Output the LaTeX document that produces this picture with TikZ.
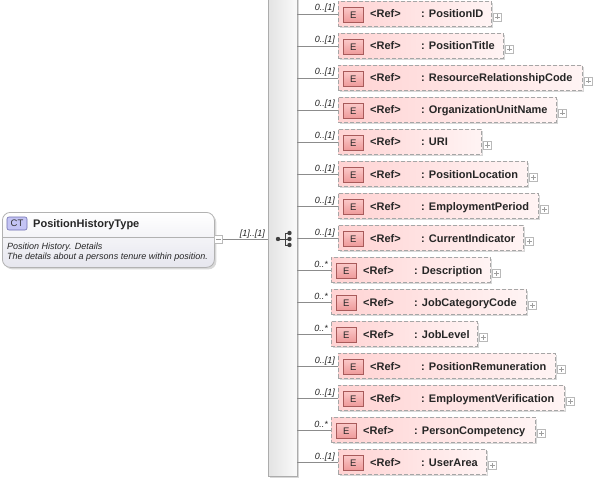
\documentclass[tikz,border=0pt]{standalone}
\usepackage{fontspec}
\setmainfont{Liberation Sans}
\usetikzlibrary{shadows}
\definecolor{lnc}{HTML}{8C8C8C}
\definecolor{boxl}{HTML}{FFD3D3}
\definecolor{boxr}{HTML}{FFF4F4}
\definecolor{dashc}{HTML}{A6A6A6}
\definecolor{eicont}{HTML}{FBC8C8}
\definecolor{eiconb}{HTML}{EE9A9A}
\definecolor{eicond}{HTML}{A85A5A}
\definecolor{cticon}{HTML}{C4C4F4}
\definecolor{cticond}{HTML}{6E6EB0}
\definecolor{ctbot}{HTML}{E6E6EE}
\begin{document}
\begin{tikzpicture}[x=1pt,y=-1pt,
  conn/.style={draw=lnc, line width=0.7pt},
  elbox/.style={draw=dashc, dash pattern=on 4pt off 2pt, line width=0.8pt,
    left color=boxl, right color=boxr, inner sep=0, anchor=north west,
    minimum height=25pt,
    drop shadow={shadow xshift=1.5pt, shadow yshift=-1.5pt, opacity=0.3}},
  eicon/.style={draw=eicond, line width=0.6pt, top color=eicont, bottom color=eiconb,
    minimum width=20pt, minimum height=15pt, inner sep=0, anchor=north west,
    font=\fontsize{9.5}{10}\selectfont, text=black!85},
  reftxt/.style={anchor=base west, inner sep=0, font=\fontsize{11}{12}\selectfont\bfseries, text=black!85},
  multtxt/.style={anchor=base east, inner sep=0, font=\fontsize{9}{10}\selectfont\itshape, text=black!85},
  plusbox/.style={draw=gray!55, fill=white, minimum size=8pt, inner sep=0, line width=0.5pt},
  seqbar/.style={draw=gray!65, line width=0.8pt, left color=gray!22, right color=gray!4,
    minimum width=29pt, minimum height=486pt, inner sep=0,
    drop shadow={shadow xshift=1.5pt, shadow yshift=-1.5pt, opacity=0.3}},
  ctbox/.style={draw=gray!60, line width=0.8pt, rounded corners=8pt, top color=white, bottom color=ctbot,
    minimum width=212pt, minimum height=55pt, inner sep=0, anchor=north west,
    drop shadow={shadow xshift=2pt, shadow yshift=-2pt, opacity=0.3}},
  ctic/.style={draw=cticond, line width=0.6pt, fill=cticon, rounded corners=2pt,
    minimum width=20pt, minimum height=13pt, inner sep=0, font=\fontsize{9.5}{10}\selectfont, text=black!80},
  desc/.style={anchor=base west, inner sep=0, font=\fontsize{9}{10}\selectfont\itshape, text=black!85}
]
\useasboundingbox (0,0) rectangle (593,481);
\fill[white] (0,0) rectangle (593,481);

% sequence bar
\node[seqbar] (seq) at (282.5,233) {};

% complex type box
\node[ctbox] (ct) at (2,212) {};
\node[ctic] (cti) at (17,223.5) {CT};
\node[anchor=base west, inner sep=0, font=\fontsize{11}{12}\selectfont\bfseries, text=black!85] (ctt) at (33,227) {PositionHistoryType};
\draw[gray!60, line width=0.6pt] (3,237) -- (214,237);
\node[desc] (d1) at (7,249) {Position History. Details};
\node[desc] (d2) at (7,259.5) {The details about a persons tenure within position.};
\node[plusbox] (ctm) at (218.5,239) {};
\draw[gray!80, line width=0.6pt] ([xshift=-2.5pt]ctm.center) -- ([xshift=2.5pt]ctm.center);
\draw[conn] (ctm.east) -- (ctm.east -| seq.west);
\node[multtxt] (cm) at (265,236) {[1]..[1]};

% compositor icon
\coordinate (k0) at (278,239);
\draw[black!75, line width=0.8pt] (k0) -- (285,239) (285,233) -- (285,245)
  (285,233) -- (289.5,233) (285,239) -- (289.5,239) (285,245) -- (289.5,245);
\fill[black!75] (k0) circle (2.2pt);
\fill[black!75] (289.5,233) circle (2.2pt) (289.5,239) circle (2.2pt) (289.5,245) circle (2.2pt);

% elements
\foreach \i/\nm/\l/\r/\mult in {
  1/PositionID/338/491/{0..[1]},
  2/PositionTitle/338/503/{0..[1]},
  3/ResourceRelationshipCode/338/582/{0..[1]},
  4/OrganizationUnitName/338/556/{0..[1]},
  5/URI/338/481/{0..[1]},
  6/PositionLocation/338/527/{0..[1]},
  7/EmploymentPeriod/338/538/{0..[1]},
  8/CurrentIndicator/338/523/{0..[1]},
  9/Description/331/490/{0..*},
  10/JobCategoryCode/331/526/{0..*},
  11/JobLevel/331/477/{0..*},
  12/PositionRemuneration/338/555/{0..[1]},
  13/EmploymentVerification/338/564/{0..[1]},
  14/PersonCompetency/331/535/{0..*},
  15/UserArea/338/486/{0..[1]}} {
  \pgfmathsetmacro\t{1+32*(\i-1)}
  \pgfmathsetmacro\w{\r-\l}
  \node[elbox, minimum width=\w pt] (e\i) at (\l,\t) {};
  \node[eicon] (ei\i) at ({\l+5},{\t+6}) {E};
  \node[reftxt] (er\i) at ({\l+32},{\t+17}) {<Ref>};
  \node[reftxt] (en\i) at ({\l+83},{\t+17}) {: \nm};
  \node[plusbox] (p\i) at ({\r+6.5},{\t+16}) {};
  \draw[gray!75, line width=0.5pt] ([xshift=-2.5pt]p\i.center) -- ([xshift=2.5pt]p\i.center)
    ([yshift=-2.5pt]p\i.center) -- ([yshift=2.5pt]p\i.center);
  \node[multtxt] (m\i) at ({\l-3},{\t+10}) {\mult};
  \draw[conn] (seq.east |- e\i.west) -- (e\i.west);
}
\end{tikzpicture}
\end{document}
